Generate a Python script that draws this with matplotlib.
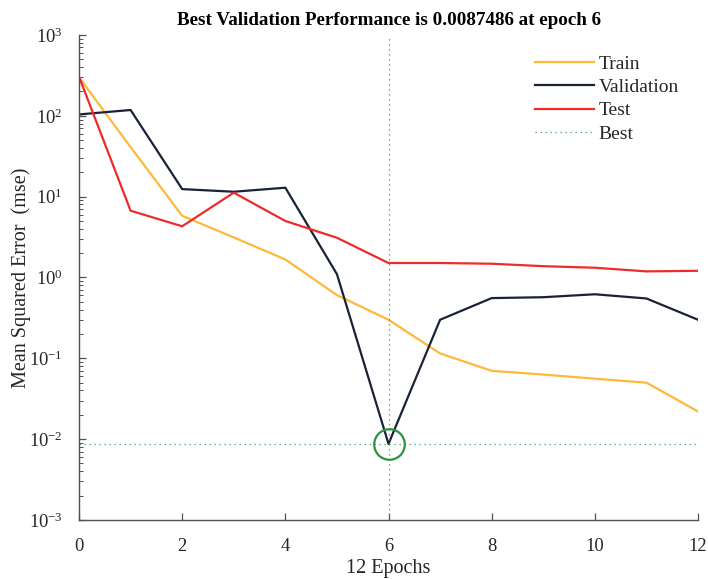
import numpy as np
import matplotlib
matplotlib.use("Agg")
import matplotlib.pyplot as plt
from matplotlib.ticker import LogLocator, NullFormatter

plt.rcParams["font.family"] = ["Liberation Serif", "DejaVu Serif"]
plt.rcParams["mathtext.fontset"] = "custom"
plt.rcParams["mathtext.rm"] = "Liberation Serif"
plt.rcParams["axes.unicode_minus"] = False

epochs = list(range(13))
train = [300, 41, 5.8, 3.13, 1.67, 0.605, 0.30, 0.115, 0.070, 0.063, 0.056, 0.050, 0.022]
validation = [104, 118, 12.4, 11.5, 12.9, 1.1, 0.0087486, 0.30, 0.556, 0.57, 0.62, 0.55, 0.30]
test = [305, 6.7, 4.3, 11.2, 5.0, 3.1, 1.51, 1.51, 1.48, 1.38, 1.32, 1.19, 1.21]
best_epoch = 6
best_perf = 0.0087486

fig = plt.figure(figsize=(7.08, 5.79), dpi=100)
ax = fig.add_axes([0.1116, 0.1019, 0.8743, 0.8377])

ax.plot(epochs, train, color="#FDB93A", lw=1.6, label="Train")
ax.plot(epochs, validation, color="#1A2238", lw=1.6, label="Validation")
ax.plot(epochs, test, color="#EE2B2B", lw=1.6, label="Test")
ax.axvline(best_epoch, color="#3A9A55", lw=0.9, ls=(0, (1, 3)))
ax.axhline(best_perf, color="#3A9A55", lw=0.9, ls=(0, (1, 3)), label="Best")
ax.plot([best_epoch], [best_perf], "o", mfc="none", mec="#2A9443", ms=22, mew=1.6)

ax.set_yscale("log")
ax.set_xlim(0, 12)
ax.set_ylim(1e-3, 1e3)
ax.set_xticks(range(0, 13, 2))
ax.yaxis.set_major_locator(LogLocator(base=10, numticks=10))
ax.yaxis.set_minor_locator(LogLocator(base=10, subs=np.arange(2, 10), numticks=20))
ax.yaxis.set_minor_formatter(NullFormatter())

for s in ["top", "right"]:
    ax.spines[s].set_visible(False)
for s in ["left", "bottom"]:
    ax.spines[s].set_color("#505050")
    ax.spines[s].set_linewidth(1.0)
ax.tick_params(which="major", direction="in", length=5, width=0.9, colors="#505050",
               labelcolor="#262626", labelsize=13.3)
ax.tick_params(axis="x", which="major", pad=13)
ax.tick_params(axis="y", which="major", pad=12)
ax.tick_params(which="minor", direction="in", length=3, width=0.7, colors="#505050")

ax.set_title("Best Validation Performance is 0.0087486 at epoch 6",
             fontsize=13.7, fontweight="bold", pad=7)
ax.set_xlabel("12 Epochs", fontsize=14.5, color="#262626", labelpad=3)
ax.set_ylabel("Mean Squared Error  (mse)", fontsize=14.5, color="#262626")
ax.yaxis.set_label_coords(-0.078, 0.5)

leg = ax.legend(loc="upper right", frameon=False, fontsize=14, handlelength=3.0,
                handletextpad=0.25, labelspacing=0.3, borderaxespad=0.5,
                bbox_to_anchor=(0.997, 0.995))
for t in leg.get_texts():
    t.set_color("#262626")

fig.savefig("out.png", dpi=100)
